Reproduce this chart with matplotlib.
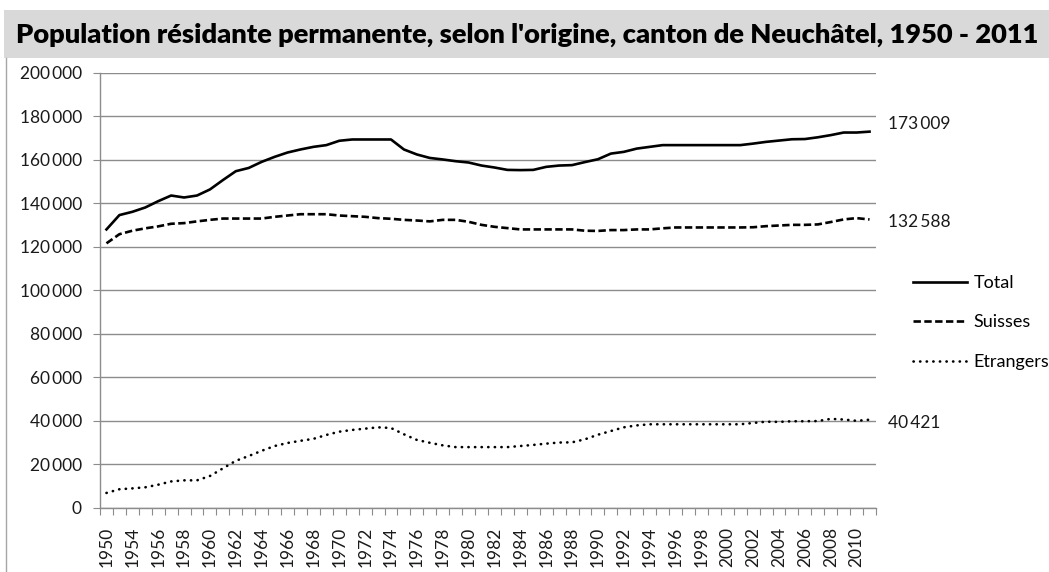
# Population résidante permanente, canton de Neuchâtel, 1950 - 2011
import matplotlib
matplotlib.use("Agg")
import matplotlib.pyplot as plt
from matplotlib.patches import Rectangle
from matplotlib.lines import Line2D

plt.rcParams['font.family'] = ['Lato', 'DejaVu Sans']

# %% data
years = [1950, 1953] + list(range(1954, 2012))

total = [128000, 134600, 136100, 138100, 141000, 143600, 142700, 143600, 146400, 150700,
         154800, 156300, 159100, 161400, 163400, 164800, 166000, 166800, 168800, 169400,
         169400, 169400, 169400, 164800, 162500, 160900, 160200, 159400, 158800, 157400,
         156500, 155400, 155300, 155400, 156800, 157400, 157600, 159000, 160300, 162900,
         163700, 165200, 166000, 166800, 166800, 166800, 166800, 166800, 166800, 166800,
         167500, 168300, 168900, 169500, 169600, 170400, 171400, 172600, 172600, 173009]

suisses = [121600, 125800, 127400, 128500, 129400, 130600, 130900, 131700, 132400, 133000,
           133000, 133000, 133000, 133800, 134400, 135000, 135000, 135000, 134400, 134100,
           133800, 133200, 132900, 132400, 132100, 131700, 132400, 132400, 131500, 130100,
           129200, 128600, 128000, 128000, 128000, 128000, 128000, 127400, 127300, 127700,
           127700, 128000, 128000, 128500, 128900, 128900, 128900, 128900, 128900, 128900,
           129000, 129500, 129800, 130100, 130100, 130300, 131400, 132600, 133200, 132588]

etrangers = [6700, 8400, 8800, 9300, 10500, 12000, 12500, 12500, 14500, 18000,
             21500, 23700, 26100, 28300, 29700, 30700, 31600, 33400, 34900, 35700,
             36300, 36900, 36600, 33700, 31100, 29800, 28600, 27800, 27800, 27800,
             27800, 27800, 28300, 28800, 29400, 29900, 30000, 31400, 33500, 35200,
             36900, 37800, 38300, 38300, 38300, 38300, 38300, 38300, 38300, 38300,
             38900, 39500, 39400, 39700, 39700, 39800, 40800, 40500, 39900, 40421]

labels = ['Total', 'Suisses', 'Etrangers']
title = "Population résidante permanente, selon l'origine, canton de Neuchâtel, 1950 - 2011"


def fmt(v):
    return f"{v:,}".replace(',', '\u2009')


# %% figure
W, H = 1049, 572
fig = plt.figure(figsize=(W / 100, H / 100), dpi=100)
ax = fig.add_axes([100 / W, 1 - 507.5 / H, 776 / W, 434.5 / H])

# title bar
fig.add_artist(Rectangle((4 / W, 1 - 58 / H), 1, 48 / H, transform=fig.transFigure,
                         facecolor='#d9d9d9', edgecolor='none', zorder=0))
fig.text(16 / W, 1 - 35 / H, title, fontsize=19.6, fontweight='heavy', va='center',
         ha='left', color='black')
# chart frame on the left
fig.add_artist(Line2D([6 / W, 6 / W], [0, 1 - 58 / H], transform=fig.transFigure,
                      color='#a6a6a6', lw=1))

x = list(range(len(years)))
grey = '#8c8c8c'
ax.plot(x, total, color='black', lw=1.9, label=labels[0])
ax.plot(x, suisses, color='black', lw=1.9, ls=(0, (2.8, 1.3)), label=labels[1])
ax.plot(x, etrangers, color='black', lw=1.9, ls=(0, (0.1, 2.4)), dash_capstyle='round',
        label=labels[2])

# end-of-line labels
for series, dy in ((total, 8), (suisses, -3), (etrangers, -3)):
    ax.annotate(fmt(series[-1]), xy=(1, series[-1]), xycoords=('axes fraction', 'data'),
                xytext=(12, dy), textcoords='offset pixels', va='center', ha='left',
                fontsize=12.5, color='#1a1a1a')

ax.set_xlim(-0.5, len(years) - 0.5)
ax.set_ylim(0, 200000)
ax.set_yticks(range(0, 200001, 20000))
ax.set_yticklabels([fmt(v) for v in range(0, 200001, 20000)], fontsize=12.5, color='#1a1a1a')
ax.yaxis.grid(True, color=grey, lw=1)
ax.set_axisbelow(True)

# ticks between categories, labels on every second category
ax.set_xticks([i - 0.5 for i in range(len(years) + 1)])
ax.set_xticklabels([])
ax.set_xticks(x[::2], minor=True)
ax.set_xticklabels([str(y) for y in years[::2]], minor=True, rotation=90,
                   fontsize=12.5, color='#1a1a1a')
ax.tick_params(axis='x', which='major', length=5, color=grey, direction='out')
ax.tick_params(axis='x', which='minor', length=0, pad=14)
ax.tick_params(axis='y', length=5, color=grey, pad=8)

for side in ('top', 'right'):
    ax.spines[side].set_visible(False)
for side in ('left', 'bottom'):
    ax.spines[side].set_color(grey)
    ax.spines[side].set_linewidth(1)

ax.legend(loc='upper left', bbox_to_anchor=(913 / W, 1 - 275 / H), bbox_transform=fig.transFigure,
          frameon=False, fontsize=13, handlelength=3.0, handletextpad=0.35,
          labelspacing=1.3, borderpad=0, borderaxespad=0)

fig.savefig('out.png', dpi=100)
